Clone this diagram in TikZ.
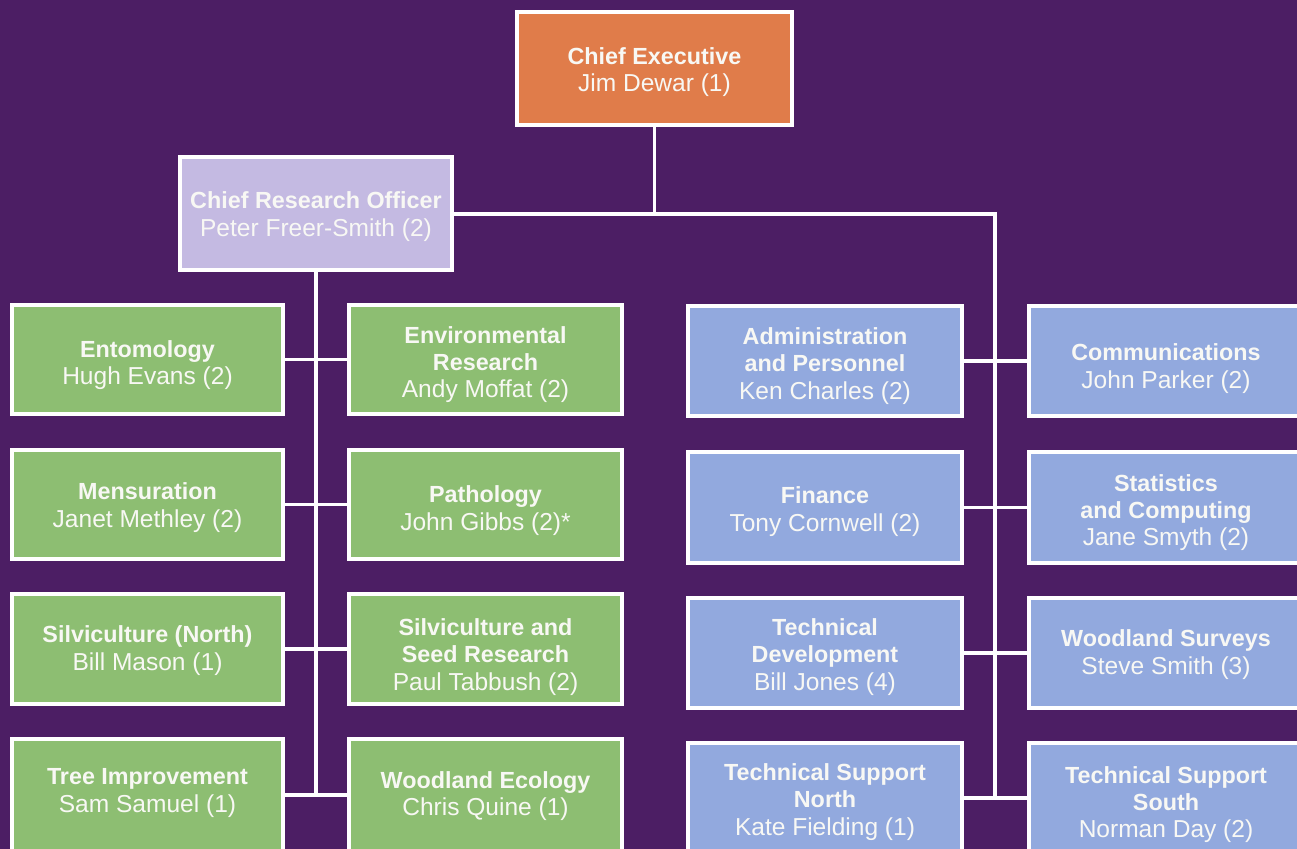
\documentclass[tikz,border=0pt]{standalone}
\usepackage{fontspec}
\setmainfont{Liberation Sans}
\definecolor{bgpurple}{RGB}{76,30,100}
\definecolor{ceorange}{RGB}{224,124,74}
\definecolor{crolav}{RGB}{196,186,226}
\definecolor{resgreen}{RGB}{141,190,114}
\definecolor{supblue}{RGB}{146,169,222}
\definecolor{txt}{RGB}{248,248,244}
\newcommand\hd[1]{{\fontsize{17.5pt}{20.5pt}\selectfont\bfseries #1}}
% box given by its pixel corners: name, x1, y1, x2, y2, style, text offset, text
\newcommand\orgbox[8]{%
  \node[#6, minimum width={(#4-#2)*0.75pt}, minimum height={(#5-#3)*0.75pt}]
    (#1) at ({(#2+#4)/2},{(#3+#5)/2}) {};
  \node[boxtext] (#1-t) at ({(#2+#4)/2},{(#3+#5)/2+#7+2.5}) {#8};}
\begin{document}
\begin{tikzpicture}[x=0.75pt,y=-0.75pt,
  unit/.style={draw=white, line width=2.6pt, inner sep=0pt, outer sep=0pt},
  boxtext/.style={inner sep=0pt, align=center, text=txt,
    font=\fontsize{18.4pt}{20.5pt}\selectfont},
  ceo/.style={unit, fill=ceorange},
  cro/.style={unit, fill=crolav},
  research/.style={unit, fill=resgreen},
  support/.style={unit, fill=supblue},
  link/.style={draw=white, line width=2.4pt}]
\clip (0,0) rectangle (1297,849);
\fill[bgpurple] (0,0) rectangle (1297,849);

% top of the chart
\orgbox{ce}{517}{12}{792}{125}{ceo}{1}{\hd{Chief Executive}\\Jim Dewar (1)}
\orgbox{cro}{180}{157}{452}{270}{cro}{0.5}{\hd{Chief Research Officer}\\Peter Freer-Smith (2)}

% research divisions
\orgbox{ent}{12}{305}{283}{414}{research}{3}{\hd{Entomology}\\Hugh Evans (2)}
\orgbox{env}{349}{305}{622}{414}{research}{2.5}{\hd{Environmental}\\\hd{Research}\\Andy Moffat (2)}
\orgbox{men}{12}{450}{283}{559}{research}{0.5}{\hd{Mensuration}\\Janet Methley (2)}
\orgbox{pat}{349}{450}{622}{559}{research}{3.5}{\hd{Pathology}\\John Gibbs (2)*}
\orgbox{siln}{12}{594}{283}{704}{research}{-1}{\hd{Silviculture (North)}\\Bill Mason (1)}
\orgbox{sils}{349}{594}{622}{704}{research}{5.5}{\hd{Silviculture and}\\\hd{Seed Research}\\Paul Tabbush (2)}
\orgbox{tree}{12}{739}{283}{851}{research}{-4.5}{\hd{Tree Improvement}\\Sam Samuel (1)}
\orgbox{eco}{349}{739}{622}{851}{research}{-1.5}{\hd{Woodland Ecology}\\Chris Quine (1)}

% support divisions
\orgbox{adm}{688}{306}{962}{416}{support}{2.5}{\hd{Administration}\\\hd{and Personnel}\\Ken Charles (2)}
\orgbox{com}{1029}{306}{1303}{416}{support}{5}{\hd{Communications}\\John Parker (2)}
\orgbox{fin}{688}{452}{962}{563}{support}{1.5}{\hd{Finance}\\Tony Cornwell (2)}
\orgbox{sta}{1029}{452}{1303}{563}{support}{2.5}{\hd{Statistics}\\\hd{and Computing}\\Jane Smyth (2)}
\orgbox{dev}{688}{598}{962}{708}{support}{1.5}{\hd{Technical}\\\hd{Development}\\Bill Jones (4)}
\orgbox{sur}{1029}{598}{1303}{708}{support}{-1}{\hd{Woodland Surveys}\\Steve Smith (3)}
\orgbox{tsn}{688}{743}{962}{853}{support}{1.5}{\hd{Technical Support}\\\hd{North}\\Kate Fielding (1)}
\orgbox{tss}{1029}{743}{1303}{853}{support}{4}{\hd{Technical Support}\\\hd{South}\\Norman Day (2)}

% junction points of the trunks
\coordinate (jtop) at (ce.south |- cro.east);
\coordinate (jright) at (995,214);
\coordinate (lend) at (cro.south |- tree.east);
\coordinate (rend) at (jright |- tsn.east);

% connectors
\draw[link] (ce.south) -- (jtop);
\draw[link] (cro.east |- jright) -- (jright) -- (rend);
\draw[link] (cro.south) -- (lend);
\draw[link] (ent.east) -- (env.west);
\draw[link] (men.east) -- (pat.west);
\draw[link] (siln.east) -- (sils.west);
\draw[link] (tree.east) -- (eco.west);
\draw[link] (adm.east) -- (com.west);
\draw[link] (fin.east) -- (sta.west);
\draw[link] (dev.east) -- (sur.west);
\draw[link] (tsn.east) -- (tss.west);
\end{tikzpicture}
\end{document}
